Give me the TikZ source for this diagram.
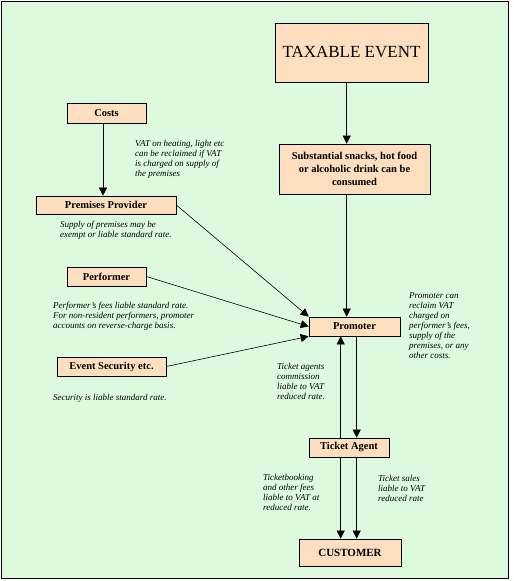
\documentclass[tikz,border=0pt]{standalone}
\usepackage{fontspec}
\setmainfont{Liberation Serif}
\usetikzlibrary{positioning,arrows.meta}
\definecolor{paleGreen}{RGB}{222,250,222}
\definecolor{peach}{RGB}{253,222,190}

\begin{document}
\begin{tikzpicture}[x=1pt, y=-1pt,
  box/.style={draw, fill=peach, line width=0.7pt, inner sep=0pt, align=center, font=\bfseries\fontsize{10.5}{13}\selectfont},
  note/.style={anchor=north west, inner sep=0pt, align=left, font=\itshape\fontsize{9}{10}\selectfont},
  flow/.style={-{Triangle[width=8pt,length=8pt]}, line width=0.6pt}]
\useasboundingbox (0,0) rectangle (514,581);
% Frame
\draw[line width=1.2pt, fill=paleGreen] (1.5,1.5) rectangle (508.5,578.5);

% Boxes
\node (event) [box, minimum width=153pt, minimum height=59pt, font=\fontsize{17}{20}\selectfont] at (351.5,52.5) {TAXABLE EVENT};
\node (food) [box, minimum width=151pt, minimum height=50pt] at (354.5,169) {Substantial snacks, hot food\\or alcoholic drink can be\\consumed};
\node (costs) [box, minimum width=79pt, minimum height=20pt] at (106.5,113) {Costs};
\node (premises) [box, minimum width=140pt, minimum height=18pt] at (106,205) {Premises Provider};
\node (performer) [box, minimum width=79pt, minimum height=19pt] at (106.5,276.5) {Performer};
\node (security) [box, minimum width=109pt, minimum height=19pt] at (111.5,366.5) {Event Security etc.};
\node (promoter) [box, minimum width=91pt, minimum height=19pt] at (354.5,326.5) {Promoter};
\node (agent) [box, minimum width=80pt, minimum height=19pt] at (349,447.5) {Ticket Agent};
\node (customer) [box, minimum width=102pt, minimum height=27pt, font=\bfseries\fontsize{11}{13}\selectfont] at (350,552.5) {CUSTOMER};

% Line positions
\coordinate (mainx) at (346.7,0);
\coordinate (costx) at (103,0);
\coordinate (leftx) at (340.7,0);
\coordinate (rightx) at (356.7,0);

% Arrows
\draw[flow] (event.south -| mainx) -- (food.north -| mainx);
\draw[flow] (food.south -| mainx) -- (promoter.north -| mainx);
\draw[flow] (costs.south -| costx) -- (premises.north -| costx);
\draw[flow] (premises.east) -- (promoter.north west);
\draw[flow] (performer.east) -- (promoter.west);
\draw[flow] (security.east) -- (promoter.south west);
\draw[flow] (agent.north -| leftx) -- (promoter.south -| leftx);
\draw[flow] (promoter.south -| rightx) -- (agent.north -| rightx);
\draw[flow] (agent.south -| leftx) -- (customer.north -| leftx);
\draw[flow] (agent.south -| rightx) -- (customer.north -| rightx);

% Notes
\node (heatnote) [note] at (135,140) {VAT on heating, light etc\\can be reclaimed if VAT\\is charged on supply of\\the premises};
\node (supplynote) [note] at (60,221) {Supply of premises may be\\exempt or liable standard rate.};
\node (feesnote) [note] at (53,302) {Performer's fees liable standard rate.\\For non-resident performers, promoter\\accounts on reverse-charge basis.};
\node (securitynote) [note] at (53,394) {Security is liable standard rate.};
\node (reclaimnote) [note] at (409,292) {Promoter can\\reclaim VAT\\charged on\\performer's fees,\\supply of the\\premises, or any\\other costs.};
\node (commissionnote) [note] at (277,363) {Ticket agents\\commission\\liable to VAT\\reduced rate.};
\node (bookingnote) [note] at (263,474) {Ticketbooking\\and other fees\\liable to VAT at\\reduced rate.};
\node (salesnote) [note] at (378,475) {Ticket sales\\liable to VAT\\reduced rate};
\end{tikzpicture}
\end{document}
